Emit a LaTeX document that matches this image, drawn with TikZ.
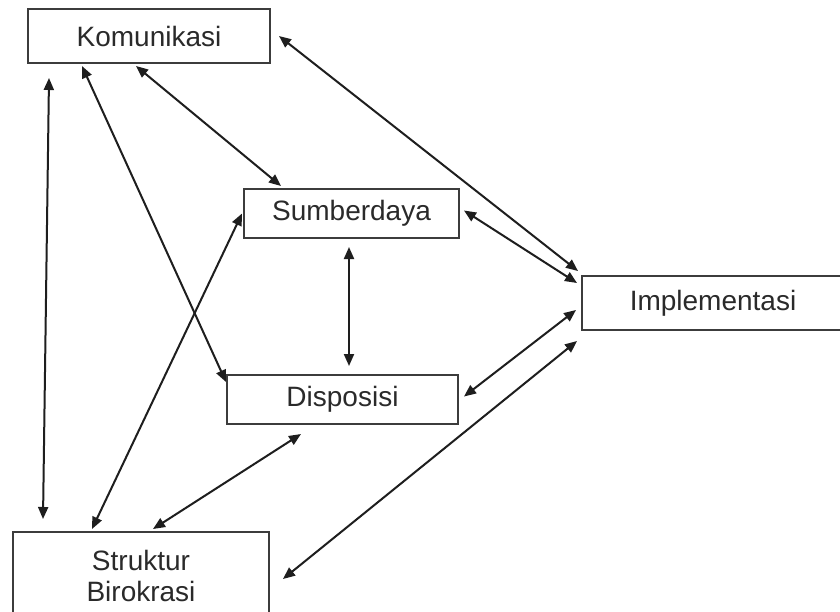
\documentclass[tikz,border=0pt]{standalone}
\usepackage{fontspec}
\setmainfont{Liberation Sans}
\usetikzlibrary{arrows.meta}
\definecolor{ink}{HTML}{1E1E1E}
\definecolor{boxline}{HTML}{3C3C3C}
\definecolor{txt}{HTML}{2A2A2A}
\begin{document}
\begin{tikzpicture}[x=1pt,y=-1pt,
  box/.style={draw=boxline,line width=2pt,rectangle,inner sep=0pt,text=txt,
    font=\fontsize{28}{31.5}\selectfont,align=center},
  link/.style={draw=ink,line width=2pt,{Triangle[length=12pt,width=10pt]}-{Triangle[length=12pt,width=10pt]}}]
\clip (0,0) rectangle (840,611);
\fill[white] (0,0) rectangle (840,611);
\node[box,minimum width=242pt,minimum height=54pt] (kom) at (149,36) {Komunikasi};
\node[box,minimum width=215pt,minimum height=49pt] (sum) at (351.5,213.5) {Sumberdaya};
\node[box,minimum width=262pt,minimum height=54pt] (imp) at (713,303) {Implementasi};
\node[box,minimum width=231pt,minimum height=49pt] (dis) at (342.5,399.5) {Disposisi};
\node[box,minimum width=256pt,minimum height=88pt] (str) at (141,576) {Struktur\\Birokrasi};
% connectors
\draw[link] ([shift={(22,14)}]kom.south west) -- ([shift={(31,-12)}]str.north west);
\draw[link] ([shift={(55,2)}]kom.south west) -- ([shift={(0,8)}]dis.north west);
\draw[link] ([shift={(109,2)}]kom.south west) -- ([shift={(38,-2)}]sum.north west);
\draw[link] ([shift={(8,0)}]kom.east) -- ([shift={(-3,-4)}]imp.north west);
\draw[link] ([shift={(4,-3)}]sum.east) -- ([shift={(-4,8)}]imp.north west);
\draw[link] ([shift={(-2.5,8)}]sum.south) -- ([shift={(6.5,-8)}]dis.north);
\draw[link] ([shift={(5,-3)}]dis.east) -- ([shift={(-5,7)}]imp.west);
\draw[link] ([shift={(80,-2)}]str.north west) -- ([shift={(-1,0)}]sum.west);
\draw[link] ([shift={(141,-2)}]str.north west) -- ([shift={(75,9)}]dis.south west);
\draw[link] ([shift={(13,48)}]str.north east) -- ([shift={(-4,10)}]imp.south west);
\end{tikzpicture}
\end{document}
